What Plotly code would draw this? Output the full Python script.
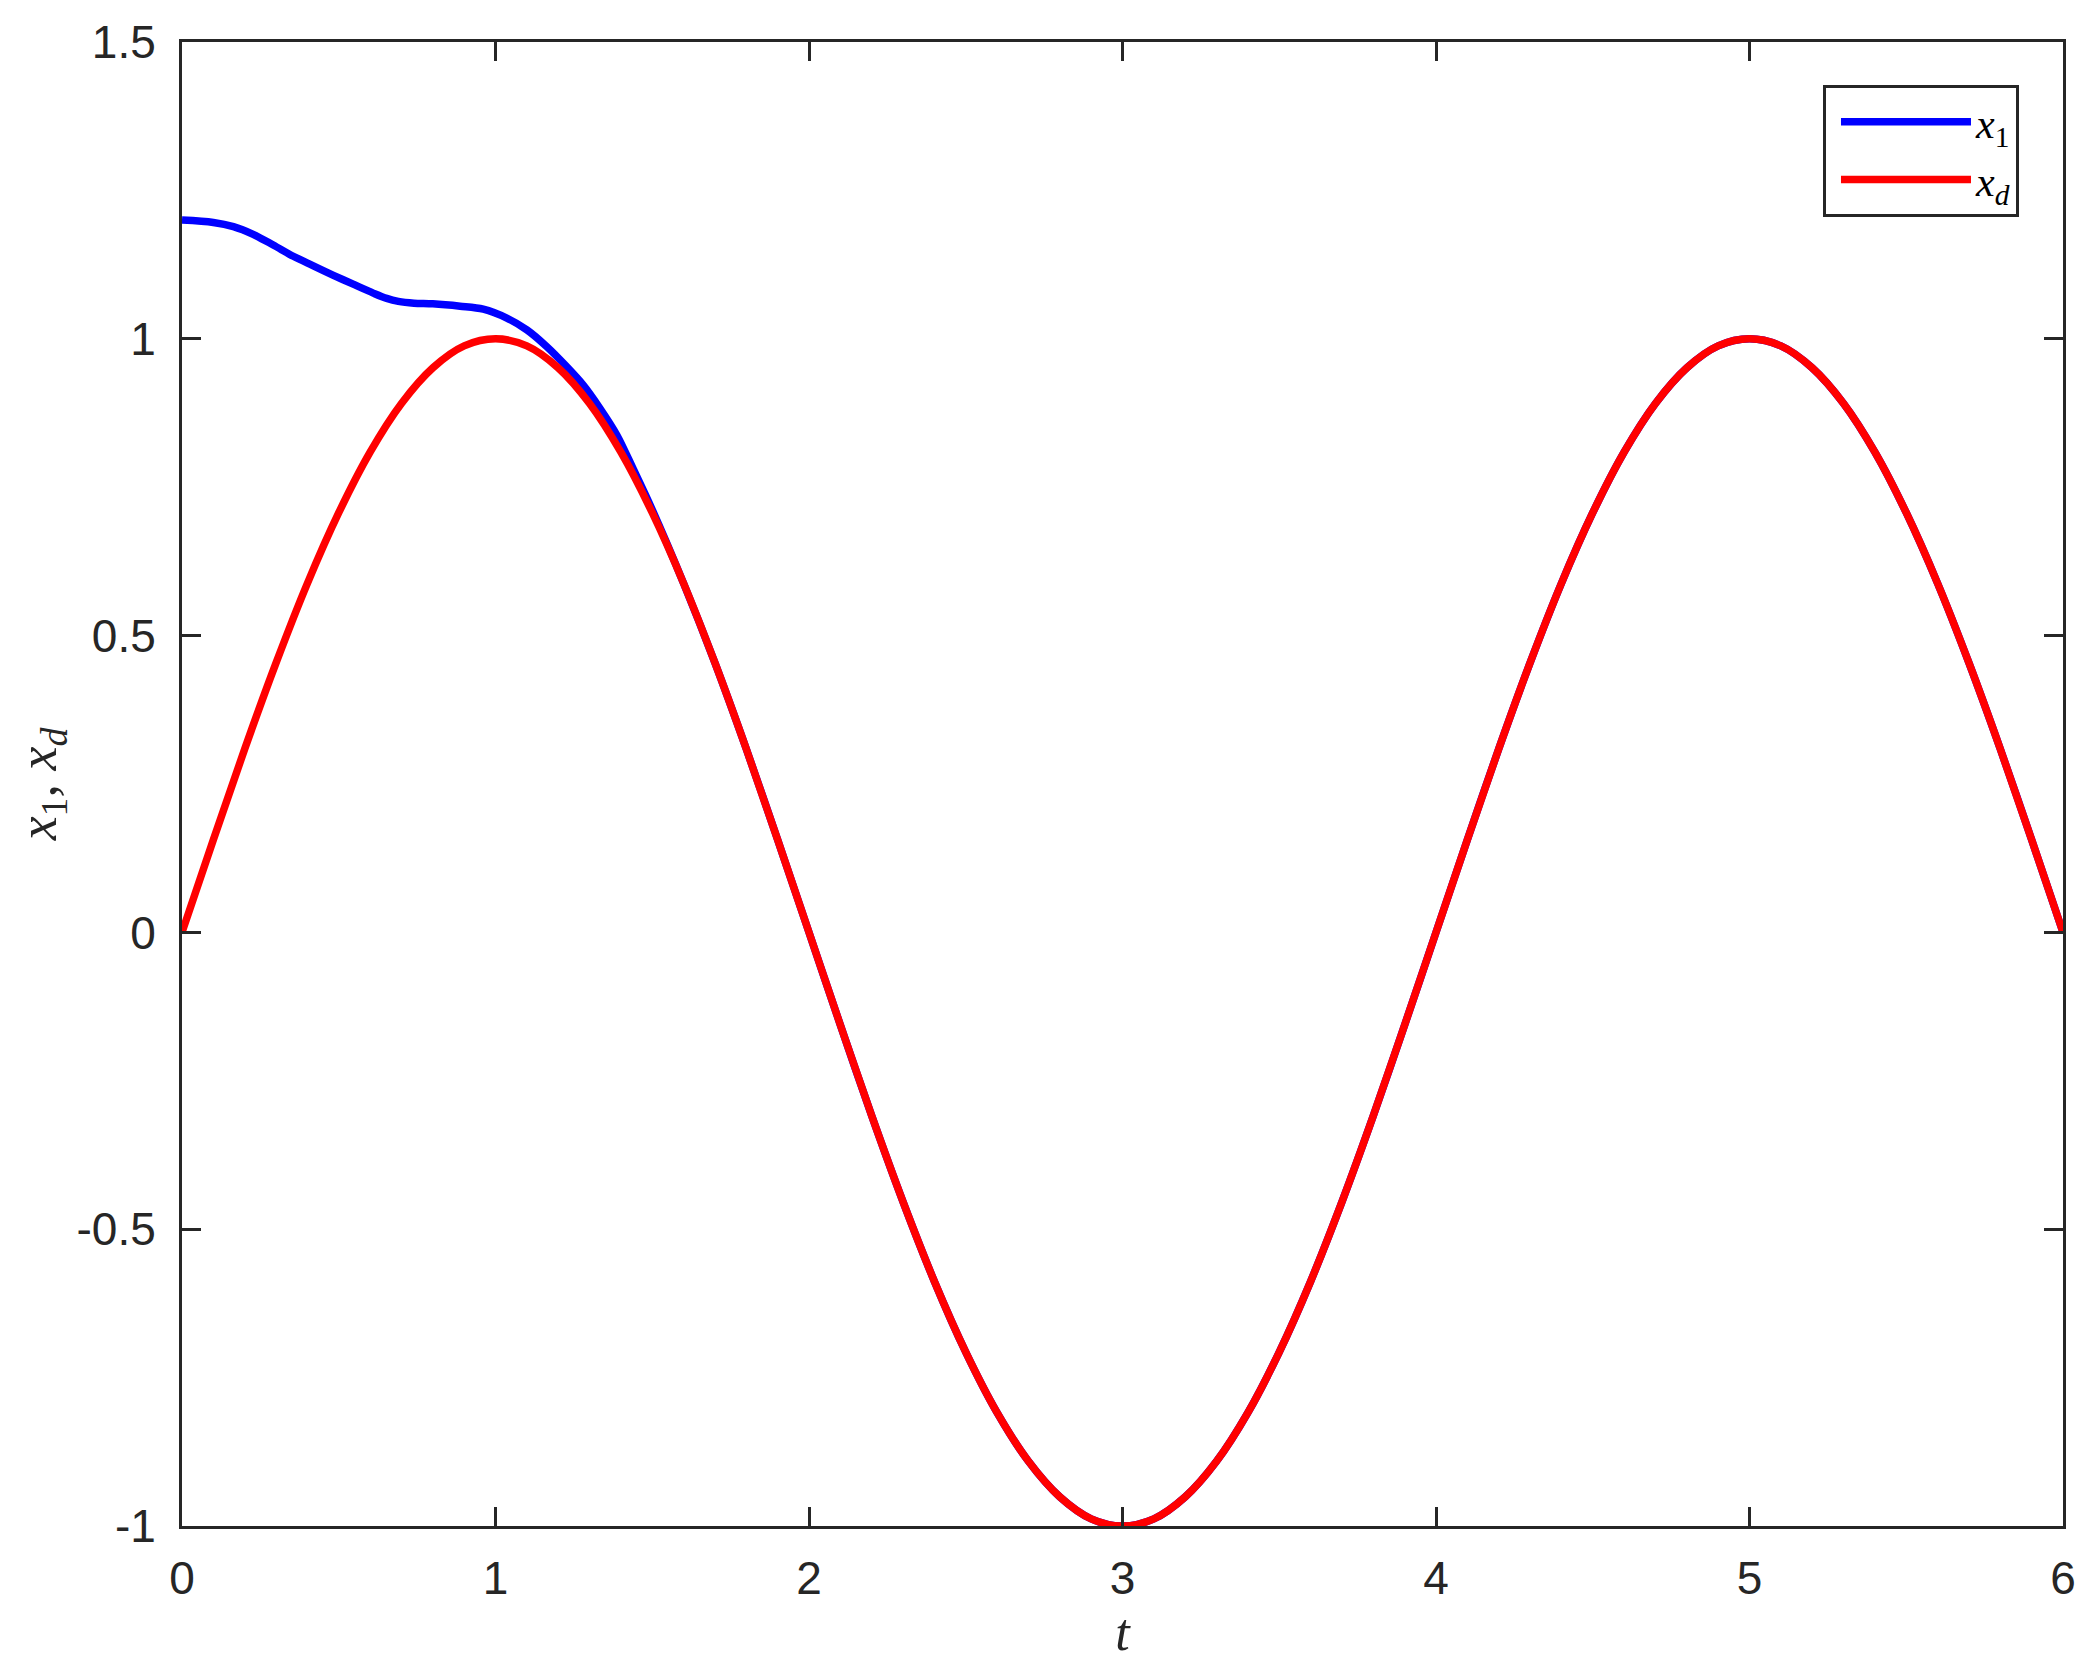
import plotly.graph_objects as go

# ---- data ----
t_ref = [round(i * 0.1, 1) for i in range(61)]
x_d = [0.000, 0.156, 0.309, 0.454, 0.588, 0.707, 0.809, 0.891, 0.951, 0.988,
       1.000, 0.988, 0.951, 0.891, 0.809, 0.707, 0.588, 0.454, 0.309, 0.156,
       0.000, -0.156, -0.309, -0.454, -0.588, -0.707, -0.809, -0.891, -0.951, -0.988,
       -1.000, -0.988, -0.951, -0.891, -0.809, -0.707, -0.588, -0.454, -0.309, -0.156,
       0.000, 0.156, 0.309, 0.454, 0.588, 0.707, 0.809, 0.891, 0.951, 0.988,
       1.000, 0.988, 0.951, 0.891, 0.809, 0.707, 0.588, 0.454, 0.309, 0.156,
       0.000]

t_x1_start = [0.000, 0.100, 0.164, 0.227, 0.291, 0.355, 0.419, 0.483, 0.546, 0.610, 0.653, 0.690, 0.740, 0.800, 0.887,
              0.961, 1.036, 1.100, 1.163, 1.227, 1.280, 1.333, 1.387, 1.440, 1.500]
x1_start = [1.200, 1.196, 1.189, 1.176, 1.158, 1.139, 1.123, 1.107, 1.092, 1.077, 1.068, 1.063, 1.060, 1.059, 1.055,
            1.050, 1.035, 1.015, 0.987, 0.953, 0.922, 0.883, 0.838, 0.780, 0.712]
t_x1_tail = t_ref[16:]
x1_tail = x_d[16:]

t_x1 = t_x1_start + t_x1_tail
x1 = x1_start + x1_tail

x_ticks = [0, 1, 2, 3, 4, 5, 6]
y_ticks = [-1, -0.5, 0, 0.5, 1, 1.5]
y_tick_labels = ["-1", "-0.5", "0", "0.5", "1", "1.5"]

AX = "#262626"
SERIF = "Liberation Serif"

fig = go.Figure()
fig.add_trace(go.Scatter(x=t_x1, y=x1, mode="lines", name="<i>x</i><sub>1</sub>",
                         line=dict(color="#0000FF", width=7.5, shape="spline", smoothing=0.9)))
fig.add_trace(go.Scatter(x=t_ref, y=x_d, mode="lines", name="<i>x</i><sub><i>d</i></sub>",
                         line=dict(color="#FF0000", width=7.5, shape="spline")))

axis_common = dict(showgrid=False, zeroline=False, showline=True, linecolor=AX, linewidth=3,
                   mirror="ticks", ticks="inside", ticklen=19, tickwidth=2.7, tickcolor=AX,
                   tickfont=dict(family="Liberation Sans", size=46, color=AX), automargin=False)

fig.update_xaxes(range=[0, 6], tickvals=x_ticks, ticktext=[str(v) for v in x_ticks],
                 ticklabelstandoff=10,
                 title=dict(text="<i>t</i>", font=dict(family=SERIF, size=52, color=AX), standoff=10),
                 **axis_common)
fig.update_yaxes(range=[-1, 1.5], tickvals=y_ticks, ticktext=y_tick_labels,
                 ticklabelstandoff=14,
                 title=dict(text="<i>x</i><sub>1</sub>, <i>x</i><sub><i>d</i></sub>",
                            font=dict(family=SERIF, size=54, color=AX), standoff=40),
                 **axis_common)

fig.update_layout(
    width=2081, height=1658,
    margin=dict(l=174, r=26, t=34, b=140),
    paper_bgcolor="white", plot_bgcolor="white",
    showlegend=True,
    legend=dict(x=0.9766, y=0.971, xanchor="right", yanchor="top",
                bgcolor="white", bordercolor=AX, borderwidth=3,
                font=dict(family=SERIF, size=42, color="black"),
                itemwidth=130, tracegroupgap=0, indentation=10),
)

fig.write_html("out.html")
